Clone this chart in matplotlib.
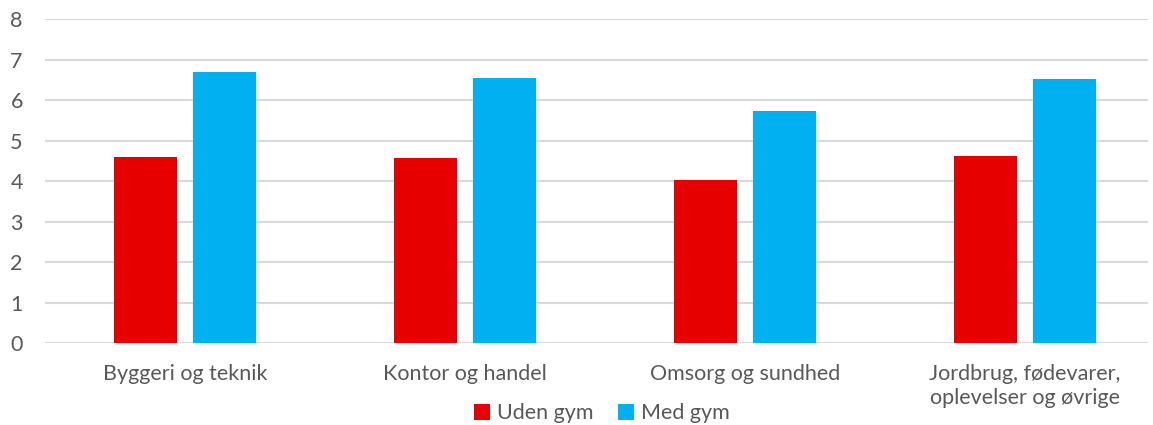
import matplotlib
matplotlib.use("Agg")
import matplotlib.pyplot as plt
import numpy as np

categories = ["Byggeri og teknik", "Kontor og handel", "Omsorg og sundhed",
              "Jordbrug, fødevarer,\noplevelser og øvrige"]
uden_gym = [4.59, 4.57, 4.03, 4.61]
med_gym = [6.69, 6.54, 5.73, 6.51]
series_names = ["Uden gym", "Med gym"]

plt.rcParams["font.family"] = ["Lato", "DejaVu Sans"]
text_color = "#595959"

fig = plt.figure(figsize=(11.53, 4.25), dpi=100)
ax = fig.add_axes([45 / 1153, 1 - 343.3 / 425, 1103 / 1153, (343.3 - 19) / 425])

x = np.arange(len(categories))
w = 0.225
off = 0.141
ax.bar(x - off, uden_gym, w, color="#E60000", label=series_names[0], zorder=3)
ax.bar(x + off, med_gym, w, color="#00B0F0", label=series_names[1], zorder=3)

ax.set_ylim(0, 8)
ax.set_xlim(-0.5, 3.44)
ax.set_yticks(range(0, 9))
ax.set_xticks(x)
ax.set_xticklabels(categories, linespacing=1.25)
ax.yaxis.grid(True, color="#D9D9D9", linewidth=1.5, zorder=0)
ax.set_axisbelow(True)
for s in ax.spines.values():
    s.set_visible(False)
ax.tick_params(axis="both", length=0, labelsize=15.5, colors=text_color)
ax.tick_params(axis="y", pad=16)
ax.tick_params(axis="x", pad=15)

leg = fig.legend(loc="lower center", bbox_to_anchor=(0.522, -0.042), ncol=2, frameon=False,
                 fontsize=15.5, handlelength=0.75, handleheight=0.75, handletextpad=0.35,
                 columnspacing=1.1)
for t in leg.get_texts():
    t.set_color(text_color)

fig.savefig("out.png", dpi=100)
